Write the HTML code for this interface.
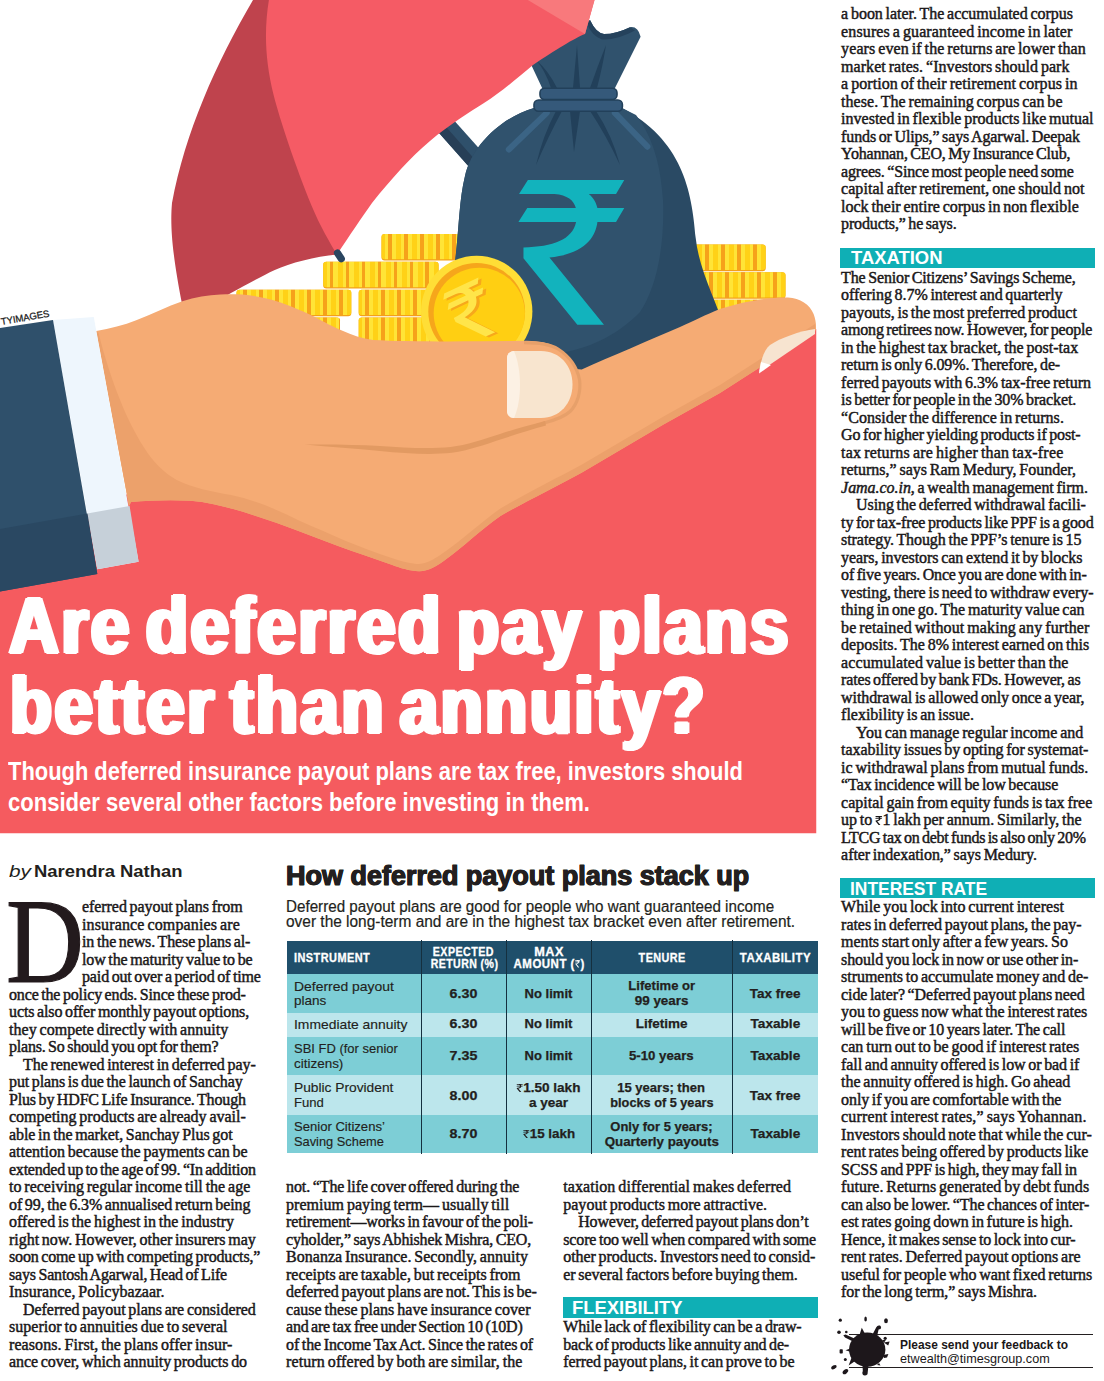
<!DOCTYPE html>
<html><head><meta charset="utf-8"><title>Are deferred pay plans better than annuity?</title>
<style>
html,body{margin:0;padding:0;background:#fff}
#page{position:relative;width:1104px;height:1381px;overflow:hidden;background:#fff;font-family:"Liberation Serif",serif}
#page div{white-space:pre}
</style></head>
<body><div id="page">
<svg id="hero" width="830" height="840" viewBox="0 0 830 840" style="position:absolute;left:0;top:0">
<defs>
<linearGradient id="cs" gradientUnits="userSpaceOnUse" x1="6.3" y1="0" x2="22.3" y2="0" spreadMethod="repeat">
<stop offset="0" stop-color="#F6A21A"/><stop offset="0.2375" stop-color="#F6A21A"/>
<stop offset="0.2375" stop-color="#FFE437"/><stop offset="0.5125" stop-color="#FFE437"/>
<stop offset="0.5125" stop-color="#FFD117"/><stop offset="0.8375" stop-color="#FFD117"/>
<stop offset="0.8375" stop-color="#FFE437"/><stop offset="1" stop-color="#FFE437"/>
</linearGradient>
<clipPath id="heroclip"><rect x="0" y="0" width="816.5" height="833.5"/></clipPath>
</defs>
<g clip-path="url(#heroclip)">
<!-- red background -->
<path d="M0,560 L135,490 L300,480 L600,380 L816.5,329 L816.5,833.5 L0,833.5 Z" fill="#F55B5F"/>
<!-- umbrella shaft -->
<path d="M447,112.5 L489,159.5 L474.5,173 L432,125 Z" fill="#2F506B"/>
<path d="M440,120 L481,166.5 L474.5,173 L432,125 Z" fill="#273F57"/>
<!-- coins left -->
<g>
<g transform="translate(236.5,317.4)"><rect x="0" y="0" width="103.5" height="26.6" rx="3.2" fill="#F3A11A"/><rect x="0" y="0" width="103.5" height="25.400000000000002" rx="3.2" fill="url(#cs)"/></g>
<g transform="translate(358.7,317.4)"><rect x="0" y="0" width="115" height="26.6" rx="3.2" fill="#F3A11A"/><rect x="0" y="0" width="115" height="25.400000000000002" rx="3.2" fill="url(#cs)"/></g>
<g transform="translate(236.5,289.7)"><rect x="0" y="0" width="114.8" height="26.6" rx="3.2" fill="#F3A11A"/><rect x="0" y="0" width="114.8" height="25.400000000000002" rx="3.2" fill="url(#cs)"/></g>
<g transform="translate(358.7,289.7)"><rect x="0" y="0" width="115" height="26.6" rx="3.2" fill="#F3A11A"/><rect x="0" y="0" width="115" height="25.400000000000002" rx="3.2" fill="url(#cs)"/></g>
<g transform="translate(323.2,261.8)"><rect x="0" y="0" width="115.4" height="26.6" rx="3.2" fill="#F3A11A"/><rect x="0" y="0" width="115.4" height="25.400000000000002" rx="3.2" fill="url(#cs)"/></g>
<g transform="translate(381.5,233.9)"><rect x="0" y="0" width="100" height="26.6" rx="3.2" fill="#F3A11A"/><rect x="0" y="0" width="100" height="25.400000000000002" rx="3.2" fill="url(#cs)"/></g>
</g>
<!-- coins right -->
<g>
<g transform="translate(682.4,299.8)"><rect x="0" y="0" width="115" height="26.6" rx="3.2" fill="#F3A11A"/><rect x="0" y="0" width="115" height="25.4" rx="3.2" fill="url(#cs)"/></g>
<g transform="translate(670.5,272.2)"><rect x="0" y="0" width="115" height="26.6" rx="3.2" fill="#F3A11A"/><rect x="0" y="0" width="115" height="25.4" rx="3.2" fill="url(#cs)"/></g>
<g transform="translate(650.7,244.6)"><rect x="0" y="0" width="115" height="26.6" rx="3.2" fill="#F3A11A"/><rect x="0" y="0" width="115" height="25.4" rx="3.2" fill="url(#cs)"/></g>
</g>
<!-- bag -->
<g>
<path d="M544,92 L528,58 L590,20 Q596,33 604,34 Q616,34 630,27.2 Q638,26 640.6,36.7 L613,92 Z" fill="#30526D"/>
<path d="M534,108 C500,118 472,146 465,176 C459,200 459,230 455,262 C450,320 470,380 580,390 L725,330 C716,300 699,270 695.7,238 C692,190 682,140 622,108 Z" fill="#2A4A64"/>
<path d="M534,108 C500,118 472,146 465,176 C459,200 459,230 455,262 C450,320 470,380 560,390 L560,353 C585,349 615,338 640,312 C655,290 665,250 663,200 C661,170 655,140 636,115 L622,108 Z" fill="#30526D"/>
<path d="M590,20 Q596,33 604,34 Q616,34 630,27.2 L635,30.5 Q616,40.5 602,39.5 Q592,36 587,24 Z" fill="#25425C"/>
<!-- folds -->
<path d="M546.8,112.8 L508.8,149.5" stroke="#3B6485" stroke-width="6" stroke-linecap="round"/>
<path d="M614.8,112.8 L647.4,146.7" stroke="#3B6485" stroke-width="6" stroke-linecap="round"/>
<path d="M556,111 Q543,135 536,165 Q549,135 562,111 Z" fill="#22405A"/>
<path d="M570,111 L574,152 L580,111 Z" fill="#22405A"/>
<path d="M596,111 Q612,135 620,165 Q606,135 590,111 Z" fill="#22405A"/>
<path d="M551,88 Q545,70 536,60 Q548,70 557,88 Z" fill="#22405A"/>
<path d="M573,88 L577,45 L580,88 Z" fill="#22405A"/>
<path d="M590,88 Q598,65 606,45 Q603,65 597,88 Z" fill="#22405A"/>
<!-- ties -->
<rect x="540" y="88.3" width="77" height="11.2" rx="4.5" fill="#35597A" stroke="#22405A" stroke-width="1.6"/>
<rect x="534" y="100" width="88.4" height="11.2" rx="4.5" fill="#35597A" stroke="#22405A" stroke-width="1.6"/>
<!-- rupee -->
<path transform="translate(500,165) scale(0.12681)" d="M220,118 L980,118 L915,228 L700,228 C740,260 760,300 768,340 L980,340 L915,450 L768,450 C755,560 680,700 390,730 L820,1260 L610,1260 L185,735 L185,650 C420,645 570,590 600,450 L145,450 L215,340 L598,340 C585,280 530,235 430,228 L150,228 Z" fill="#12B3BD"/>
</g>
<!-- umbrella -->
<path d="M253,0 C216,63 185,133 172,203 C170,225 172,253.6 182.5,306 L200,312 C210,306 220,299 231,293 C247,284.5 262,276 274.8,270 C290,263 315,256.5 337,254.5 L300,0 Z" fill="#BF434D"/>
<path d="M268.9,0 C264,30 265,60 273.6,95 C280,120 295,165 311.7,206 C320,226 330,243 337,254.5 C350,235 362,217 372,203 C392,178 410,158 430,141 C450,124 470,112 484,103 C500,93 515,80 533,65 C555,50 575,38 585,34 L594.4,0 Z" fill="#F55B65"/>
<path d="M527.8,0 L594.6,0 L585,34 Z" fill="#F8797C"/>
<!-- umbrella tip pin -->
<path d="M337.5,253 L341.3,258.8" stroke="#2A4560" stroke-width="7.2" stroke-linecap="round"/>
<!-- big coin -->
<g>
<circle cx="476.7" cy="311.5" r="55.7" fill="#FFDE36"/>
<circle cx="476.7" cy="311.5" r="48.4" fill="#F6A61B"/>
<circle cx="479.3" cy="313.3" r="45.6" fill="#FFCF12"/>
<g transform="translate(471.5,312) rotate(-25) scale(0.0497) translate(-560,-690)">
<path transform="translate(50,45)" d="M220,118 L980,118 L915,228 L700,228 C740,260 760,300 768,340 L980,340 L915,450 L768,450 C755,560 680,700 390,730 L820,1260 L610,1260 L185,735 L185,650 C420,645 570,590 600,450 L145,450 L215,340 L598,340 C585,280 530,235 430,228 L150,228 Z" fill="#F7A81B"/>
<path d="M220,118 L980,118 L915,228 L700,228 C740,260 760,300 768,340 L980,340 L915,450 L768,450 C755,560 680,700 390,730 L820,1260 L610,1260 L185,735 L185,650 C420,645 570,590 600,450 L145,450 L215,340 L598,340 C585,280 530,235 430,228 L150,228 Z" fill="#FFE54A"/>
</g>
</g>
<!-- hand -->
<g>
<path id="handp" d="M96.3,331 C110,329 124,325 136.2,320.3 C152,314 167,306.5 182.4,301.25 C195,297 208,295 220.4,294.5 C228,294.2 235,294.2 242.2,294.5 C251,295.2 259,296.5 266.6,298.5 C285,303 300,310 314,316.6 C325,322.5 333,327 342.5,330.7 C352,335 362,338.5 373,340 C400,341.5 440,341.5 480,341.3 L526.7,340.8 C540,341 548,342.5 556.6,347.6 C566,353 572,360 576,369 L581.7,369.4 C610,357 650,340 680,327 C695,320.5 705,315 719.8,309 C745,301 770,297 788,297.6 C800,298 810,305 813.6,314 C815.5,319 816.3,324 816,329 L815,332 L720,393 L663.5,424.5 L582,472.4 C555,487 525,502 500.4,515.9 C480,530 462,548 446,559.3 C437,566 428,571.5 418.9,571.3 C410,571 400,568 391.7,564.8 C372,558 355,552 337.4,545.8 C310,535.5 283,524.5 255.9,515.9 C235,509 212,502.5 190.7,500.7 C170,499.5 150,500.3 131,502 L129,506 Z" fill="#F5AB74"/>
<!-- shadow along lower edge and wrist -->
<path d="M98.5,333 C104,355 112,380 119.6,398.7 C127,418 135,433 144,447.6 C153,462 164,473 176.6,480 C193,488 211,491.5 231,495 C255,500 278,510 300,521 C330,534 360,548 391.7,558 C402,561.5 412,564 419,564 C428,563.5 436,558 446,551 C462,540 480,523 500.4,508.5 C525,494 555,479 582,464.4 L663.5,416.5 L720,385 L815,324 L815,332 L720,393 L663.5,424.5 L582,472.4 C555,487 525,502 500.4,515.9 C480,530 462,548 446,559.3 C437,566 428,571.5 418.9,571.3 C410,571 400,568 391.7,564.8 C372,558 355,552 337.4,545.8 C310,535.5 283,524.5 255.9,515.9 C235,509 212,502.5 190.7,500.7 C170,499.5 150,500.3 131,502 L129,506 L96.3,331 Z" fill="#ECA16B"/>
<!-- thumb outline + crease -->
<path d="M524,342.6 C540,342.6 550,344 558,349 C569,356 577,367 579.6,380 C581,392 577.5,404 570,411.5 C563,418 553,420.8 543,423.2" fill="none" stroke="#E7A06A" stroke-width="3.2"/>
<path d="M545,421.1 C528,425.5 514,429.5 500,434 C483,439.5 467,445 450.6,447 C430,449 405,447.8 380,446 C355,444.6 330,444.2 304.8,444.6 C330,447 355,448.6 380,451 C405,453.4 430,455.2 452,452.8 C469,450.4 485,444.6 502,439 C516,434.4 530,430 546,425.6 Z" fill="#E29A62"/>
<!-- thumb nail -->
<path d="M514,351 L541,351 C560,351 572.5,366 572.5,384.5 C572.5,403 560,418 541,418 L514,418 C510,418 507,415 507,411 L507,358 C507,354 510,351 514,351 Z" fill="#F8E5CF"/>
<path d="M514,351 C510,351 507,354 507,358 L507,411 C507,415 510,418 514,418 C522,400 522,370 514,351 Z" fill="#FCF1E4"/>
<!-- finger nail -->
<path d="M815,329 C800,331 780,338 770,345 C764,350 761,360 759,372 L815,334 Z" fill="#F7E4D0"/>
<path d="M761,362 L759,373.5 L771,365 Z" fill="#FFFFFF"/>
</g>
<!-- cuff -->
<path d="M53,320 L93.75,317 L138.6,561.7 L97.3,569.3 Z" fill="#EEF6FD"/>
<path d="M87.3,513.4 L129.6,506 L138.6,561.7 L97.3,569.3 Z" fill="#C6D0D9"/>
<!-- sleeve -->
<path d="M0,328 L53,320 L97.3,574 L0,591.6 Z" fill="#2F506B"/>
<path d="M0,529 L87.5,513.4 L97.3,574 L0,591.6 Z" fill="#2A4862"/>
</g>
<text x="0" y="0" transform="translate(1.6,325.1) rotate(-9.95)" font-family="Liberation Sans, sans-serif" font-size="9.6" fill="#1a1a1a" stroke="#1a1a1a" stroke-width="0.25" letter-spacing="-0.1">TYIMAGES</text>
</svg>

<!-- section bars -->
<div style="position:absolute;left:840px;top:247.5px;width:255px;height:20px;background:#0FAFB5"></div>
<div style="position:absolute;left:840px;top:878px;width:255px;height:20px;background:#0FAFB5"></div>
<div style="position:absolute;left:563.25px;top:1297px;width:254.5px;height:20.5px;background:#0FAFB5"></div>
<!-- table -->
<div style="position:absolute;left:287.2px;top:940.9px;width:530.4px;height:212.3px;background:linear-gradient(to bottom,#1F4F6B 0.0px,#1F4F6B 32.7px,#7DCED6 32.7px,#7DCED6 71.8px,#BCE6EC 71.8px,#BCE6EC 95.9px,#7DCED6 95.9px,#7DCED6 133.9px,#BCE6EC 133.9px,#BCE6EC 173.8px,#7DCED6 173.8px,#7DCED6 212.3px)"></div>
<div style="position:absolute;left:421px;top:940.2px;width:1.2px;height:213.8px;background:#15303f"></div>
<div style="position:absolute;left:506px;top:940.2px;width:1.2px;height:213.8px;background:#15303f"></div>
<div style="position:absolute;left:591px;top:940.2px;width:1.2px;height:213.8px;background:#15303f"></div>
<div style="position:absolute;left:732px;top:940.2px;width:1.2px;height:213.8px;background:#15303f"></div>
<!-- feedback -->
<div style="position:absolute;left:849px;top:1333.8px;width:244px;height:1px;background:#231f20"></div>
<div style="position:absolute;left:849px;top:1367px;width:244px;height:1px;background:#231f20"></div>
<svg style="position:absolute;left:826px;top:1312px" width="70" height="68" viewBox="826 1312 70 68">
<g fill="#1d171b">
<ellipse cx="867.2" cy="1349.6" rx="18.2" ry="17.2"/>
<path d="M872.5,1334.5 L876.3,1327.2 Q877.5,1324.8 880,1325.6 Q882,1327 880.6,1329 L878.6,1329.6 L877.2,1335.5 Z"/>
<path d="M859.5,1335 L861.8,1327.8 L864.8,1333.5 Z"/>
<path d="M853,1341.5 L845,1337.6 L843.3,1335.2 L845.5,1334.6 L855,1338.8 Z"/>
<path d="M851,1348.2 L845.5,1350.2 L851,1352 Z"/>
<path d="M852,1356.5 L848.6,1365.6 L856,1360.5 Z"/>
<path d="M862.5,1364.5 L862.8,1371 Q861.5,1373.5 863,1375 Q865.5,1376.2 867.5,1374.2 L868.5,1365 Z"/>
<path d="M882,1340 L886,1339.8 L884,1342.8 Z"/>
<circle cx="885.2" cy="1338.3" r="1.6"/>
<path d="M883.8,1342.6 L889.6,1341.6 L888.2,1345.6 Z"/>
<path d="M883,1355 L888.4,1354 L887,1357.4 L884,1358 Z"/>
<path d="M879,1363 L880.5,1365.5 L877,1365 Z"/>
<circle cx="840.3" cy="1320.2" r="1.6"/>
<ellipse cx="865.6" cy="1319" rx="1.3" ry="2.6"/>
<ellipse cx="886" cy="1320.8" rx="1.9" ry="2.5"/>
<circle cx="839" cy="1332.3" r="1.8"/><circle cx="846.3" cy="1332" r="1.3"/>
<rect x="839.6" y="1349.2" width="3.2" height="4.4" rx="0.8"/>
<circle cx="845.3" cy="1359.6" r="1.5"/>
<ellipse cx="833.9" cy="1367.2" rx="3" ry="1.8" transform="rotate(-28 833.9 1367.2)"/>
<ellipse cx="845.4" cy="1371.6" rx="3.2" ry="2" transform="rotate(-40 845.4 1371.6)"/>
</g></svg>

<div style='position:absolute;top:899.10px;line-height:1;color:#1a1718;font-family:"Liberation Serif", serif;font-size:16px;font-weight:normal;font-style:normal;white-space:pre;word-spacing:-1.2px;-webkit-text-stroke:0.45px #1a1718;letter-spacing:-0.063px;left:82.00px;'>eferred payout plans from</div>
<div style='position:absolute;top:916.60px;line-height:1;color:#1a1718;font-family:"Liberation Serif", serif;font-size:16px;font-weight:normal;font-style:normal;white-space:pre;word-spacing:-1.2px;-webkit-text-stroke:0.45px #1a1718;letter-spacing:0.139px;left:82.00px;'>insurance companies are</div>
<div style='position:absolute;top:934.10px;line-height:1;color:#1a1718;font-family:"Liberation Serif", serif;font-size:16px;font-weight:normal;font-style:normal;white-space:pre;word-spacing:-1.2px;-webkit-text-stroke:0.45px #1a1718;letter-spacing:-0.113px;left:82.00px;'>in the news. These plans al-</div>
<div style='position:absolute;top:951.60px;line-height:1;color:#1a1718;font-family:"Liberation Serif", serif;font-size:16px;font-weight:normal;font-style:normal;white-space:pre;word-spacing:-1.2px;-webkit-text-stroke:0.45px #1a1718;letter-spacing:-0.122px;left:82.00px;'>low the maturity value to be</div>
<div style='position:absolute;top:969.10px;line-height:1;color:#1a1718;font-family:"Liberation Serif", serif;font-size:16px;font-weight:normal;font-style:normal;white-space:pre;word-spacing:-1.2px;-webkit-text-stroke:0.45px #1a1718;letter-spacing:-0.139px;left:82.00px;'>paid out over a period of time</div>
<div style='position:absolute;top:986.60px;line-height:1;color:#1a1718;font-family:"Liberation Serif", serif;font-size:16px;font-weight:normal;font-style:normal;white-space:pre;word-spacing:-1.2px;-webkit-text-stroke:0.45px #1a1718;letter-spacing:-0.158px;left:9.00px;'>once the policy ends. Since these prod-</div>
<div style='position:absolute;top:1004.10px;line-height:1;color:#1a1718;font-family:"Liberation Serif", serif;font-size:16px;font-weight:normal;font-style:normal;white-space:pre;word-spacing:-1.2px;-webkit-text-stroke:0.45px #1a1718;letter-spacing:-0.110px;left:9.00px;'>ucts also offer monthly payout options,</div>
<div style='position:absolute;top:1021.60px;line-height:1;color:#1a1718;font-family:"Liberation Serif", serif;font-size:16px;font-weight:normal;font-style:normal;white-space:pre;word-spacing:-1.2px;-webkit-text-stroke:0.45px #1a1718;letter-spacing:0.031px;left:9.00px;'>they compete directly with annuity</div>
<div style='position:absolute;top:1039.10px;line-height:1;color:#1a1718;font-family:"Liberation Serif", serif;font-size:16px;font-weight:normal;font-style:normal;white-space:pre;word-spacing:-1.2px;-webkit-text-stroke:0.45px #1a1718;letter-spacing:-0.207px;left:9.00px;'>plans. So should you opt for them?</div>
<div style='position:absolute;top:1056.60px;line-height:1;color:#1a1718;font-family:"Liberation Serif", serif;font-size:16px;font-weight:normal;font-style:normal;white-space:pre;word-spacing:-1.2px;-webkit-text-stroke:0.45px #1a1718;letter-spacing:-0.041px;left:23.00px;'>The renewed interest in deferred pay-</div>
<div style='position:absolute;top:1074.10px;line-height:1;color:#1a1718;font-family:"Liberation Serif", serif;font-size:16px;font-weight:normal;font-style:normal;white-space:pre;word-spacing:-1.2px;-webkit-text-stroke:0.45px #1a1718;letter-spacing:-0.099px;left:9.00px;'>put plans is due the launch of Sanchay</div>
<div style='position:absolute;top:1091.60px;line-height:1;color:#1a1718;font-family:"Liberation Serif", serif;font-size:16px;font-weight:normal;font-style:normal;white-space:pre;word-spacing:-1.2px;-webkit-text-stroke:0.45px #1a1718;letter-spacing:-0.165px;left:9.00px;'>Plus by HDFC Life Insurance. Though</div>
<div style='position:absolute;top:1109.10px;line-height:1;color:#1a1718;font-family:"Liberation Serif", serif;font-size:16px;font-weight:normal;font-style:normal;white-space:pre;word-spacing:-1.2px;-webkit-text-stroke:0.45px #1a1718;letter-spacing:-0.002px;left:9.00px;'>competing products are already avail-</div>
<div style='position:absolute;top:1126.60px;line-height:1;color:#1a1718;font-family:"Liberation Serif", serif;font-size:16px;font-weight:normal;font-style:normal;white-space:pre;word-spacing:-1.2px;-webkit-text-stroke:0.45px #1a1718;letter-spacing:-0.071px;left:9.00px;'>able in the market, Sanchay Plus got</div>
<div style='position:absolute;top:1144.10px;line-height:1;color:#1a1718;font-family:"Liberation Serif", serif;font-size:16px;font-weight:normal;font-style:normal;white-space:pre;word-spacing:-1.2px;-webkit-text-stroke:0.45px #1a1718;letter-spacing:-0.007px;left:9.00px;'>attention because the payments can be</div>
<div style='position:absolute;top:1161.60px;line-height:1;color:#1a1718;font-family:"Liberation Serif", serif;font-size:16px;font-weight:normal;font-style:normal;white-space:pre;word-spacing:-1.2px;-webkit-text-stroke:0.45px #1a1718;letter-spacing:-0.232px;left:9.00px;'>extended up to the age of 99. “In addition</div>
<div style='position:absolute;top:1179.10px;line-height:1;color:#1a1718;font-family:"Liberation Serif", serif;font-size:16px;font-weight:normal;font-style:normal;white-space:pre;word-spacing:-1.2px;-webkit-text-stroke:0.45px #1a1718;letter-spacing:0.015px;left:9.00px;'>to receiving regular income till the age</div>
<div style='position:absolute;top:1196.60px;line-height:1;color:#1a1718;font-family:"Liberation Serif", serif;font-size:16px;font-weight:normal;font-style:normal;white-space:pre;word-spacing:-1.2px;-webkit-text-stroke:0.45px #1a1718;letter-spacing:-0.100px;left:9.00px;'>of 99, the 6.3% annualised return being</div>
<div style='position:absolute;top:1214.10px;line-height:1;color:#1a1718;font-family:"Liberation Serif", serif;font-size:16px;font-weight:normal;font-style:normal;white-space:pre;word-spacing:-1.2px;-webkit-text-stroke:0.45px #1a1718;letter-spacing:0.039px;left:9.00px;'>offered is the highest in the industry</div>
<div style='position:absolute;top:1231.60px;line-height:1;color:#1a1718;font-family:"Liberation Serif", serif;font-size:16px;font-weight:normal;font-style:normal;white-space:pre;word-spacing:-1.2px;-webkit-text-stroke:0.45px #1a1718;letter-spacing:-0.027px;left:9.00px;'>right now. However, other insurers may</div>
<div style='position:absolute;top:1249.10px;line-height:1;color:#1a1718;font-family:"Liberation Serif", serif;font-size:16px;font-weight:normal;font-style:normal;white-space:pre;word-spacing:-1.2px;-webkit-text-stroke:0.45px #1a1718;letter-spacing:-0.152px;left:9.00px;'>soon come up with competing products,”</div>
<div style='position:absolute;top:1266.60px;line-height:1;color:#1a1718;font-family:"Liberation Serif", serif;font-size:16px;font-weight:normal;font-style:normal;white-space:pre;word-spacing:-1.2px;-webkit-text-stroke:0.45px #1a1718;letter-spacing:-0.180px;left:9.00px;'>says Santosh Agarwal, Head of Life</div>
<div style='position:absolute;top:1284.10px;line-height:1;color:#1a1718;font-family:"Liberation Serif", serif;font-size:16px;font-weight:normal;font-style:normal;white-space:pre;word-spacing:-1.2px;-webkit-text-stroke:0.45px #1a1718;letter-spacing:0.034px;left:9.00px;'>Insurance, Policybazaar.</div>
<div style='position:absolute;top:1301.60px;line-height:1;color:#1a1718;font-family:"Liberation Serif", serif;font-size:16px;font-weight:normal;font-style:normal;white-space:pre;word-spacing:-1.2px;-webkit-text-stroke:0.45px #1a1718;letter-spacing:-0.039px;left:23.00px;'>Deferred payout plans are considered</div>
<div style='position:absolute;top:1319.10px;line-height:1;color:#1a1718;font-family:"Liberation Serif", serif;font-size:16px;font-weight:normal;font-style:normal;white-space:pre;word-spacing:-1.2px;-webkit-text-stroke:0.45px #1a1718;letter-spacing:0.029px;left:9.00px;'>superior to annuities due to several</div>
<div style='position:absolute;top:1336.60px;line-height:1;color:#1a1718;font-family:"Liberation Serif", serif;font-size:16px;font-weight:normal;font-style:normal;white-space:pre;word-spacing:-1.2px;-webkit-text-stroke:0.45px #1a1718;letter-spacing:0.081px;left:9.00px;'>reasons. First, the plans offer insur-</div>
<div style='position:absolute;top:1354.10px;line-height:1;color:#1a1718;font-family:"Liberation Serif", serif;font-size:16px;font-weight:normal;font-style:normal;white-space:pre;word-spacing:-1.2px;-webkit-text-stroke:0.45px #1a1718;letter-spacing:-0.064px;left:9.00px;'>ance cover, which annuity products do</div>
<div style='position:absolute;top:1179.10px;line-height:1;color:#1a1718;font-family:"Liberation Serif", serif;font-size:16px;font-weight:normal;font-style:normal;white-space:pre;word-spacing:-1.2px;-webkit-text-stroke:0.45px #1a1718;letter-spacing:-0.102px;left:286.00px;'>not. “The life cover offered during the</div>
<div style='position:absolute;top:1196.60px;line-height:1;color:#1a1718;font-family:"Liberation Serif", serif;font-size:16px;font-weight:normal;font-style:normal;white-space:pre;word-spacing:-1.2px;-webkit-text-stroke:0.45px #1a1718;letter-spacing:0.044px;left:286.00px;'>premium paying term— usually till</div>
<div style='position:absolute;top:1214.10px;line-height:1;color:#1a1718;font-family:"Liberation Serif", serif;font-size:16px;font-weight:normal;font-style:normal;white-space:pre;word-spacing:-1.2px;-webkit-text-stroke:0.45px #1a1718;letter-spacing:-0.131px;left:286.00px;'>retirement—works in favour of the poli-</div>
<div style='position:absolute;top:1231.60px;line-height:1;color:#1a1718;font-family:"Liberation Serif", serif;font-size:16px;font-weight:normal;font-style:normal;white-space:pre;word-spacing:-1.2px;-webkit-text-stroke:0.45px #1a1718;letter-spacing:-0.160px;left:286.00px;'>cyholder,” says Abhishek Mishra, CEO,</div>
<div style='position:absolute;top:1249.10px;line-height:1;color:#1a1718;font-family:"Liberation Serif", serif;font-size:16px;font-weight:normal;font-style:normal;white-space:pre;word-spacing:-1.2px;-webkit-text-stroke:0.45px #1a1718;letter-spacing:0.027px;left:286.00px;'>Bonanza Insurance. Secondly, annuity</div>
<div style='position:absolute;top:1266.60px;line-height:1;color:#1a1718;font-family:"Liberation Serif", serif;font-size:16px;font-weight:normal;font-style:normal;white-space:pre;word-spacing:-1.2px;-webkit-text-stroke:0.45px #1a1718;letter-spacing:-0.006px;left:286.00px;'>receipts are taxable, but receipts from</div>
<div style='position:absolute;top:1284.10px;line-height:1;color:#1a1718;font-family:"Liberation Serif", serif;font-size:16px;font-weight:normal;font-style:normal;white-space:pre;word-spacing:-1.2px;-webkit-text-stroke:0.45px #1a1718;letter-spacing:-0.063px;left:286.00px;'>deferred payout plans are not. This is be-</div>
<div style='position:absolute;top:1301.60px;line-height:1;color:#1a1718;font-family:"Liberation Serif", serif;font-size:16px;font-weight:normal;font-style:normal;white-space:pre;word-spacing:-1.2px;-webkit-text-stroke:0.45px #1a1718;letter-spacing:0.035px;left:286.00px;'>cause these plans have insurance cover</div>
<div style='position:absolute;top:1319.10px;line-height:1;color:#1a1718;font-family:"Liberation Serif", serif;font-size:16px;font-weight:normal;font-style:normal;white-space:pre;word-spacing:-1.2px;-webkit-text-stroke:0.45px #1a1718;letter-spacing:-0.224px;left:286.00px;'>and are tax free under Section 10 (10D)</div>
<div style='position:absolute;top:1336.60px;line-height:1;color:#1a1718;font-family:"Liberation Serif", serif;font-size:16px;font-weight:normal;font-style:normal;white-space:pre;word-spacing:-1.2px;-webkit-text-stroke:0.45px #1a1718;letter-spacing:-0.110px;left:286.00px;'>of the Income Tax Act. Since the rates of</div>
<div style='position:absolute;top:1354.10px;line-height:1;color:#1a1718;font-family:"Liberation Serif", serif;font-size:16px;font-weight:normal;font-style:normal;white-space:pre;word-spacing:-1.2px;-webkit-text-stroke:0.45px #1a1718;letter-spacing:0.111px;left:286.00px;'>return offered by both are similar, the</div>
<div style='position:absolute;top:1179.10px;line-height:1;color:#1a1718;font-family:"Liberation Serif", serif;font-size:16px;font-weight:normal;font-style:normal;white-space:pre;word-spacing:-1.2px;-webkit-text-stroke:0.45px #1a1718;letter-spacing:0.081px;left:563.25px;'>taxation differential makes deferred</div>
<div style='position:absolute;top:1196.60px;line-height:1;color:#1a1718;font-family:"Liberation Serif", serif;font-size:16px;font-weight:normal;font-style:normal;white-space:pre;word-spacing:-1.2px;-webkit-text-stroke:0.45px #1a1718;letter-spacing:0.011px;left:563.25px;'>payout products more attractive.</div>
<div style='position:absolute;top:1214.10px;line-height:1;color:#1a1718;font-family:"Liberation Serif", serif;font-size:16px;font-weight:normal;font-style:normal;white-space:pre;word-spacing:-1.2px;-webkit-text-stroke:0.45px #1a1718;letter-spacing:-0.194px;left:578.25px;'>However, deferred payout plans don’t</div>
<div style='position:absolute;top:1231.60px;line-height:1;color:#1a1718;font-family:"Liberation Serif", serif;font-size:16px;font-weight:normal;font-style:normal;white-space:pre;word-spacing:-1.2px;-webkit-text-stroke:0.45px #1a1718;letter-spacing:-0.150px;left:563.25px;'>score too well when compared with some</div>
<div style='position:absolute;top:1249.10px;line-height:1;color:#1a1718;font-family:"Liberation Serif", serif;font-size:16px;font-weight:normal;font-style:normal;white-space:pre;word-spacing:-1.2px;-webkit-text-stroke:0.45px #1a1718;letter-spacing:-0.057px;left:563.25px;'>other products. Investors need to consid-</div>
<div style='position:absolute;top:1266.60px;line-height:1;color:#1a1718;font-family:"Liberation Serif", serif;font-size:16px;font-weight:normal;font-style:normal;white-space:pre;word-spacing:-1.2px;-webkit-text-stroke:0.45px #1a1718;letter-spacing:-0.053px;left:563.25px;'>er several factors before buying them.</div>
<div style='position:absolute;top:1319.10px;line-height:1;color:#1a1718;font-family:"Liberation Serif", serif;font-size:16px;font-weight:normal;font-style:normal;white-space:pre;word-spacing:-1.2px;-webkit-text-stroke:0.45px #1a1718;letter-spacing:-0.130px;left:563.25px;'>While lack of flexibility can be a draw-</div>
<div style='position:absolute;top:1336.60px;line-height:1;color:#1a1718;font-family:"Liberation Serif", serif;font-size:16px;font-weight:normal;font-style:normal;white-space:pre;word-spacing:-1.2px;-webkit-text-stroke:0.45px #1a1718;letter-spacing:-0.139px;left:563.25px;'>back of products like annuity and de-</div>
<div style='position:absolute;top:1354.10px;line-height:1;color:#1a1718;font-family:"Liberation Serif", serif;font-size:16px;font-weight:normal;font-style:normal;white-space:pre;word-spacing:-1.2px;-webkit-text-stroke:0.45px #1a1718;letter-spacing:-0.074px;left:563.25px;'>ferred payout plans, it can prove to be</div>
<div style='position:absolute;top:6.10px;line-height:1;color:#1a1718;font-family:"Liberation Serif", serif;font-size:16px;font-weight:normal;font-style:normal;white-space:pre;word-spacing:-1.2px;-webkit-text-stroke:0.45px #1a1718;letter-spacing:-0.025px;left:841.10px;'>a boon later. The accumulated corpus</div>
<div style='position:absolute;top:23.60px;line-height:1;color:#1a1718;font-family:"Liberation Serif", serif;font-size:16px;font-weight:normal;font-style:normal;white-space:pre;word-spacing:-1.2px;-webkit-text-stroke:0.45px #1a1718;letter-spacing:0.114px;left:841.10px;'>ensures a guaranteed income in later</div>
<div style='position:absolute;top:41.10px;line-height:1;color:#1a1718;font-family:"Liberation Serif", serif;font-size:16px;font-weight:normal;font-style:normal;white-space:pre;word-spacing:-1.2px;-webkit-text-stroke:0.45px #1a1718;letter-spacing:0.098px;left:841.10px;'>years even if the returns are lower than</div>
<div style='position:absolute;top:58.60px;line-height:1;color:#1a1718;font-family:"Liberation Serif", serif;font-size:16px;font-weight:normal;font-style:normal;white-space:pre;word-spacing:-1.2px;-webkit-text-stroke:0.45px #1a1718;letter-spacing:0.049px;left:841.10px;'>market rates. “Investors should park</div>
<div style='position:absolute;top:76.10px;line-height:1;color:#1a1718;font-family:"Liberation Serif", serif;font-size:16px;font-weight:normal;font-style:normal;white-space:pre;word-spacing:-1.2px;-webkit-text-stroke:0.45px #1a1718;letter-spacing:0.072px;left:841.10px;'>a portion of their retirement corpus in</div>
<div style='position:absolute;top:93.60px;line-height:1;color:#1a1718;font-family:"Liberation Serif", serif;font-size:16px;font-weight:normal;font-style:normal;white-space:pre;word-spacing:-1.2px;-webkit-text-stroke:0.45px #1a1718;letter-spacing:0.034px;left:841.10px;'>these. The remaining corpus can be</div>
<div style='position:absolute;top:111.10px;line-height:1;color:#1a1718;font-family:"Liberation Serif", serif;font-size:16px;font-weight:normal;font-style:normal;white-space:pre;word-spacing:-1.2px;-webkit-text-stroke:0.45px #1a1718;letter-spacing:0.007px;left:841.10px;'>invested in flexible products like mutual</div>
<div style='position:absolute;top:128.60px;line-height:1;color:#1a1718;font-family:"Liberation Serif", serif;font-size:16px;font-weight:normal;font-style:normal;white-space:pre;word-spacing:-1.2px;-webkit-text-stroke:0.45px #1a1718;letter-spacing:-0.120px;left:841.10px;'>funds or Ulips,” says Agarwal. Deepak</div>
<div style='position:absolute;top:146.10px;line-height:1;color:#1a1718;font-family:"Liberation Serif", serif;font-size:16px;font-weight:normal;font-style:normal;white-space:pre;word-spacing:-1.2px;-webkit-text-stroke:0.45px #1a1718;letter-spacing:-0.171px;left:841.10px;'>Yohannan, CEO, My Insurance Club,</div>
<div style='position:absolute;top:163.60px;line-height:1;color:#1a1718;font-family:"Liberation Serif", serif;font-size:16px;font-weight:normal;font-style:normal;white-space:pre;word-spacing:-1.2px;-webkit-text-stroke:0.45px #1a1718;letter-spacing:-0.184px;left:841.10px;'>agrees. “Since most people need some</div>
<div style='position:absolute;top:181.10px;line-height:1;color:#1a1718;font-family:"Liberation Serif", serif;font-size:16px;font-weight:normal;font-style:normal;white-space:pre;word-spacing:-1.2px;-webkit-text-stroke:0.45px #1a1718;letter-spacing:0.038px;left:841.10px;'>capital after retirement, one should not</div>
<div style='position:absolute;top:198.60px;line-height:1;color:#1a1718;font-family:"Liberation Serif", serif;font-size:16px;font-weight:normal;font-style:normal;white-space:pre;word-spacing:-1.2px;-webkit-text-stroke:0.45px #1a1718;letter-spacing:-0.008px;left:841.10px;'>lock their entire corpus in non flexible</div>
<div style='position:absolute;top:216.10px;line-height:1;color:#1a1718;font-family:"Liberation Serif", serif;font-size:16px;font-weight:normal;font-style:normal;white-space:pre;word-spacing:-1.2px;-webkit-text-stroke:0.45px #1a1718;letter-spacing:-0.159px;left:841.10px;'>products,” he says.</div>
<div style='position:absolute;top:269.80px;line-height:1;color:#1a1718;font-family:"Liberation Serif", serif;font-size:16px;font-weight:normal;font-style:normal;white-space:pre;word-spacing:-1.2px;-webkit-text-stroke:0.45px #1a1718;letter-spacing:-0.147px;left:841.10px;'>The Senior Citizens’ Savings Scheme,</div>
<div style='position:absolute;top:287.30px;line-height:1;color:#1a1718;font-family:"Liberation Serif", serif;font-size:16px;font-weight:normal;font-style:normal;white-space:pre;word-spacing:-1.2px;-webkit-text-stroke:0.45px #1a1718;letter-spacing:-0.063px;left:841.10px;'>offering 8.7% interest and quarterly</div>
<div style='position:absolute;top:304.80px;line-height:1;color:#1a1718;font-family:"Liberation Serif", serif;font-size:16px;font-weight:normal;font-style:normal;white-space:pre;word-spacing:-1.2px;-webkit-text-stroke:0.45px #1a1718;letter-spacing:-0.023px;left:841.10px;'>payouts, is the most preferred product</div>
<div style='position:absolute;top:322.30px;line-height:1;color:#1a1718;font-family:"Liberation Serif", serif;font-size:16px;font-weight:normal;font-style:normal;white-space:pre;word-spacing:-1.2px;-webkit-text-stroke:0.45px #1a1718;letter-spacing:-0.187px;left:841.10px;'>among retirees now. However, for people</div>
<div style='position:absolute;top:339.80px;line-height:1;color:#1a1718;font-family:"Liberation Serif", serif;font-size:16px;font-weight:normal;font-style:normal;white-space:pre;word-spacing:-1.2px;-webkit-text-stroke:0.45px #1a1718;letter-spacing:0.008px;left:841.10px;'>in the highest tax bracket, the post-tax</div>
<div style='position:absolute;top:357.30px;line-height:1;color:#1a1718;font-family:"Liberation Serif", serif;font-size:16px;font-weight:normal;font-style:normal;white-space:pre;word-spacing:-1.2px;-webkit-text-stroke:0.45px #1a1718;letter-spacing:-0.136px;left:841.10px;'>return is only 6.09%. Therefore, de-</div>
<div style='position:absolute;top:374.80px;line-height:1;color:#1a1718;font-family:"Liberation Serif", serif;font-size:16px;font-weight:normal;font-style:normal;white-space:pre;word-spacing:-1.2px;-webkit-text-stroke:0.45px #1a1718;letter-spacing:-0.046px;left:841.10px;'>ferred payouts with 6.3% tax-free return</div>
<div style='position:absolute;top:392.30px;line-height:1;color:#1a1718;font-family:"Liberation Serif", serif;font-size:16px;font-weight:normal;font-style:normal;white-space:pre;word-spacing:-1.2px;-webkit-text-stroke:0.45px #1a1718;letter-spacing:-0.136px;left:841.10px;'>is better for people in the 30% bracket.</div>
<div style='position:absolute;top:409.80px;line-height:1;color:#1a1718;font-family:"Liberation Serif", serif;font-size:16px;font-weight:normal;font-style:normal;white-space:pre;word-spacing:-1.2px;-webkit-text-stroke:0.45px #1a1718;letter-spacing:0.050px;left:841.10px;'>“Consider the difference in returns.</div>
<div style='position:absolute;top:427.30px;line-height:1;color:#1a1718;font-family:"Liberation Serif", serif;font-size:16px;font-weight:normal;font-style:normal;white-space:pre;word-spacing:-1.2px;-webkit-text-stroke:0.45px #1a1718;letter-spacing:-0.144px;left:841.10px;'>Go for higher yielding products if post-</div>
<div style='position:absolute;top:444.80px;line-height:1;color:#1a1718;font-family:"Liberation Serif", serif;font-size:16px;font-weight:normal;font-style:normal;white-space:pre;word-spacing:-1.2px;-webkit-text-stroke:0.45px #1a1718;letter-spacing:0.186px;left:841.10px;'>tax returns are higher than tax-free</div>
<div style='position:absolute;top:462.30px;line-height:1;color:#1a1718;font-family:"Liberation Serif", serif;font-size:16px;font-weight:normal;font-style:normal;white-space:pre;word-spacing:-1.2px;-webkit-text-stroke:0.45px #1a1718;letter-spacing:0.004px;left:841.10px;'>returns,” says Ram Medury, Founder,</div>
<div style='position:absolute;top:479.80px;line-height:1;color:#1a1718;font-family:"Liberation Serif", serif;font-size:16px;font-weight:normal;font-style:normal;white-space:pre;word-spacing:-1.2px;-webkit-text-stroke:0.45px #1a1718;letter-spacing:-0.046px;left:841.10px;'><i>Jama.co.in</i>, a wealth management firm.</div>
<div style='position:absolute;top:497.30px;line-height:1;color:#1a1718;font-family:"Liberation Serif", serif;font-size:16px;font-weight:normal;font-style:normal;white-space:pre;word-spacing:-1.2px;-webkit-text-stroke:0.45px #1a1718;letter-spacing:-0.070px;left:856.00px;'>Using the deferred withdrawal facili-</div>
<div style='position:absolute;top:514.80px;line-height:1;color:#1a1718;font-family:"Liberation Serif", serif;font-size:16px;font-weight:normal;font-style:normal;white-space:pre;word-spacing:-1.2px;-webkit-text-stroke:0.45px #1a1718;letter-spacing:-0.148px;left:841.10px;'>ty for tax-free products like PPF is a good</div>
<div style='position:absolute;top:532.30px;line-height:1;color:#1a1718;font-family:"Liberation Serif", serif;font-size:16px;font-weight:normal;font-style:normal;white-space:pre;word-spacing:-1.2px;-webkit-text-stroke:0.45px #1a1718;letter-spacing:-0.080px;left:841.10px;'>strategy. Though the PPF’s tenure is 15</div>
<div style='position:absolute;top:549.80px;line-height:1;color:#1a1718;font-family:"Liberation Serif", serif;font-size:16px;font-weight:normal;font-style:normal;white-space:pre;word-spacing:-1.2px;-webkit-text-stroke:0.45px #1a1718;letter-spacing:-0.063px;left:841.10px;'>years, investors can extend it by blocks</div>
<div style='position:absolute;top:567.30px;line-height:1;color:#1a1718;font-family:"Liberation Serif", serif;font-size:16px;font-weight:normal;font-style:normal;white-space:pre;word-spacing:-1.2px;-webkit-text-stroke:0.45px #1a1718;letter-spacing:-0.184px;left:841.10px;'>of five years. Once you are done with in-</div>
<div style='position:absolute;top:584.80px;line-height:1;color:#1a1718;font-family:"Liberation Serif", serif;font-size:16px;font-weight:normal;font-style:normal;white-space:pre;word-spacing:-1.2px;-webkit-text-stroke:0.45px #1a1718;letter-spacing:-0.028px;left:841.10px;'>vesting, there is need to withdraw every-</div>
<div style='position:absolute;top:602.30px;line-height:1;color:#1a1718;font-family:"Liberation Serif", serif;font-size:16px;font-weight:normal;font-style:normal;white-space:pre;word-spacing:-1.2px;-webkit-text-stroke:0.45px #1a1718;letter-spacing:-0.006px;left:841.10px;'>thing in one go. The maturity value can</div>
<div style='position:absolute;top:619.80px;line-height:1;color:#1a1718;font-family:"Liberation Serif", serif;font-size:16px;font-weight:normal;font-style:normal;white-space:pre;word-spacing:-1.2px;-webkit-text-stroke:0.45px #1a1718;letter-spacing:0.113px;left:841.10px;'>be retained without making any further</div>
<div style='position:absolute;top:637.30px;line-height:1;color:#1a1718;font-family:"Liberation Serif", serif;font-size:16px;font-weight:normal;font-style:normal;white-space:pre;word-spacing:-1.2px;-webkit-text-stroke:0.45px #1a1718;letter-spacing:0.001px;left:841.10px;'>deposits. The 8% interest earned on this</div>
<div style='position:absolute;top:654.80px;line-height:1;color:#1a1718;font-family:"Liberation Serif", serif;font-size:16px;font-weight:normal;font-style:normal;white-space:pre;word-spacing:-1.2px;-webkit-text-stroke:0.45px #1a1718;letter-spacing:0.105px;left:841.10px;'>accumulated value is better than the</div>
<div style='position:absolute;top:672.30px;line-height:1;color:#1a1718;font-family:"Liberation Serif", serif;font-size:16px;font-weight:normal;font-style:normal;white-space:pre;word-spacing:-1.2px;-webkit-text-stroke:0.45px #1a1718;letter-spacing:-0.173px;left:841.10px;'>rates offered by bank FDs. However, as</div>
<div style='position:absolute;top:689.80px;line-height:1;color:#1a1718;font-family:"Liberation Serif", serif;font-size:16px;font-weight:normal;font-style:normal;white-space:pre;word-spacing:-1.2px;-webkit-text-stroke:0.45px #1a1718;letter-spacing:-0.085px;left:841.10px;'>withdrawal is allowed only once a year,</div>
<div style='position:absolute;top:707.30px;line-height:1;color:#1a1718;font-family:"Liberation Serif", serif;font-size:16px;font-weight:normal;font-style:normal;white-space:pre;word-spacing:-1.2px;-webkit-text-stroke:0.45px #1a1718;letter-spacing:-0.018px;left:841.10px;'>flexibility is an issue.</div>
<div style='position:absolute;top:724.80px;line-height:1;color:#1a1718;font-family:"Liberation Serif", serif;font-size:16px;font-weight:normal;font-style:normal;white-space:pre;word-spacing:-1.2px;-webkit-text-stroke:0.45px #1a1718;letter-spacing:-0.005px;left:856.00px;'>You can manage regular income and</div>
<div style='position:absolute;top:742.30px;line-height:1;color:#1a1718;font-family:"Liberation Serif", serif;font-size:16px;font-weight:normal;font-style:normal;white-space:pre;word-spacing:-1.2px;-webkit-text-stroke:0.45px #1a1718;letter-spacing:-0.056px;left:841.10px;'>taxability issues by opting for systemat-</div>
<div style='position:absolute;top:759.80px;line-height:1;color:#1a1718;font-family:"Liberation Serif", serif;font-size:16px;font-weight:normal;font-style:normal;white-space:pre;word-spacing:-1.2px;-webkit-text-stroke:0.45px #1a1718;letter-spacing:0.022px;left:841.10px;'>ic withdrawal plans from mutual funds.</div>
<div style='position:absolute;top:777.30px;line-height:1;color:#1a1718;font-family:"Liberation Serif", serif;font-size:16px;font-weight:normal;font-style:normal;white-space:pre;word-spacing:-1.2px;-webkit-text-stroke:0.45px #1a1718;letter-spacing:-0.107px;left:841.10px;'>“Tax incidence will be low because</div>
<div style='position:absolute;top:794.80px;line-height:1;color:#1a1718;font-family:"Liberation Serif", serif;font-size:16px;font-weight:normal;font-style:normal;white-space:pre;word-spacing:-1.2px;-webkit-text-stroke:0.45px #1a1718;letter-spacing:-0.009px;left:841.10px;'>capital gain from equity funds is tax free</div>
<div style='position:absolute;top:812.30px;line-height:1;color:#1a1718;font-family:"Liberation Serif", serif;font-size:16px;font-weight:normal;font-style:normal;white-space:pre;word-spacing:-1.2px;-webkit-text-stroke:0.45px #1a1718;letter-spacing:-0.018px;left:841.10px;'>up to <svg width="7.49" height="9.60" viewBox="140 118 845 1142" style="display:inline-block;vertical-align:baseline;position:relative;top:0px"><path d="M220,118 L980,118 L915,228 L700,228 C740,260 760,300 768,340 L980,340 L915,450 L768,450 C755,560 680,700 390,730 L820,1260 L610,1260 L185,735 L185,650 C420,645 570,590 600,450 L145,450 L215,340 L598,340 C585,280 530,235 430,228 L150,228 Z" fill="#1a1718"/></svg>1 lakh per annum. Similarly, the</div>
<div style='position:absolute;top:829.80px;line-height:1;color:#1a1718;font-family:"Liberation Serif", serif;font-size:16px;font-weight:normal;font-style:normal;white-space:pre;word-spacing:-1.2px;-webkit-text-stroke:0.45px #1a1718;letter-spacing:-0.278px;left:841.10px;'>LTCG tax on debt funds is also only 20%</div>
<div style='position:absolute;top:847.30px;line-height:1;color:#1a1718;font-family:"Liberation Serif", serif;font-size:16px;font-weight:normal;font-style:normal;white-space:pre;word-spacing:-1.2px;-webkit-text-stroke:0.45px #1a1718;letter-spacing:-0.054px;left:841.10px;'>after indexation,” says Medury.</div>
<div style='position:absolute;top:899.30px;line-height:1;color:#1a1718;font-family:"Liberation Serif", serif;font-size:16px;font-weight:normal;font-style:normal;white-space:pre;word-spacing:-1.2px;-webkit-text-stroke:0.45px #1a1718;letter-spacing:0.025px;left:841.10px;'>While you lock into current interest</div>
<div style='position:absolute;top:916.80px;line-height:1;color:#1a1718;font-family:"Liberation Serif", serif;font-size:16px;font-weight:normal;font-style:normal;white-space:pre;word-spacing:-1.2px;-webkit-text-stroke:0.45px #1a1718;letter-spacing:-0.040px;left:841.10px;'>rates in deferred payout plans, the pay-</div>
<div style='position:absolute;top:934.30px;line-height:1;color:#1a1718;font-family:"Liberation Serif", serif;font-size:16px;font-weight:normal;font-style:normal;white-space:pre;word-spacing:-1.2px;-webkit-text-stroke:0.45px #1a1718;letter-spacing:-0.056px;left:841.10px;'>ments start only after a few years. So</div>
<div style='position:absolute;top:951.80px;line-height:1;color:#1a1718;font-family:"Liberation Serif", serif;font-size:16px;font-weight:normal;font-style:normal;white-space:pre;word-spacing:-1.2px;-webkit-text-stroke:0.45px #1a1718;letter-spacing:-0.125px;left:841.10px;'>should you lock in now or use other in-</div>
<div style='position:absolute;top:969.30px;line-height:1;color:#1a1718;font-family:"Liberation Serif", serif;font-size:16px;font-weight:normal;font-style:normal;white-space:pre;word-spacing:-1.2px;-webkit-text-stroke:0.45px #1a1718;letter-spacing:-0.036px;left:841.10px;'>struments to accumulate money and de-</div>
<div style='position:absolute;top:986.80px;line-height:1;color:#1a1718;font-family:"Liberation Serif", serif;font-size:16px;font-weight:normal;font-style:normal;white-space:pre;word-spacing:-1.2px;-webkit-text-stroke:0.45px #1a1718;letter-spacing:-0.108px;left:841.10px;'>cide later? “Deferred payout plans need</div>
<div style='position:absolute;top:1004.30px;line-height:1;color:#1a1718;font-family:"Liberation Serif", serif;font-size:16px;font-weight:normal;font-style:normal;white-space:pre;word-spacing:-1.2px;-webkit-text-stroke:0.45px #1a1718;letter-spacing:-0.026px;left:841.10px;'>you to guess now what the interest rates</div>
<div style='position:absolute;top:1021.80px;line-height:1;color:#1a1718;font-family:"Liberation Serif", serif;font-size:16px;font-weight:normal;font-style:normal;white-space:pre;word-spacing:-1.2px;-webkit-text-stroke:0.45px #1a1718;letter-spacing:-0.136px;left:841.10px;'>will be five or 10 years later. The call</div>
<div style='position:absolute;top:1039.30px;line-height:1;color:#1a1718;font-family:"Liberation Serif", serif;font-size:16px;font-weight:normal;font-style:normal;white-space:pre;word-spacing:-1.2px;-webkit-text-stroke:0.45px #1a1718;letter-spacing:0.019px;left:841.10px;'>can turn out to be good if interest rates</div>
<div style='position:absolute;top:1056.80px;line-height:1;color:#1a1718;font-family:"Liberation Serif", serif;font-size:16px;font-weight:normal;font-style:normal;white-space:pre;word-spacing:-1.2px;-webkit-text-stroke:0.45px #1a1718;letter-spacing:-0.082px;left:841.10px;'>fall and annuity offered is low or bad if</div>
<div style='position:absolute;top:1074.30px;line-height:1;color:#1a1718;font-family:"Liberation Serif", serif;font-size:16px;font-weight:normal;font-style:normal;white-space:pre;word-spacing:-1.2px;-webkit-text-stroke:0.45px #1a1718;letter-spacing:-0.026px;left:841.10px;'>the annuity offered is high. Go ahead</div>
<div style='position:absolute;top:1091.80px;line-height:1;color:#1a1718;font-family:"Liberation Serif", serif;font-size:16px;font-weight:normal;font-style:normal;white-space:pre;word-spacing:-1.2px;-webkit-text-stroke:0.45px #1a1718;letter-spacing:-0.100px;left:841.10px;'>only if you are comfortable with the</div>
<div style='position:absolute;top:1109.30px;line-height:1;color:#1a1718;font-family:"Liberation Serif", serif;font-size:16px;font-weight:normal;font-style:normal;white-space:pre;word-spacing:-1.2px;-webkit-text-stroke:0.45px #1a1718;letter-spacing:0.139px;left:841.10px;'>current interest rates,” says Yohannan.</div>
<div style='position:absolute;top:1126.80px;line-height:1;color:#1a1718;font-family:"Liberation Serif", serif;font-size:16px;font-weight:normal;font-style:normal;white-space:pre;word-spacing:-1.2px;-webkit-text-stroke:0.45px #1a1718;letter-spacing:0.011px;left:841.10px;'>Investors should note that while the cur-</div>
<div style='position:absolute;top:1144.30px;line-height:1;color:#1a1718;font-family:"Liberation Serif", serif;font-size:16px;font-weight:normal;font-style:normal;white-space:pre;word-spacing:-1.2px;-webkit-text-stroke:0.45px #1a1718;letter-spacing:-0.029px;left:841.10px;'>rent rates being offered by products like</div>
<div style='position:absolute;top:1161.80px;line-height:1;color:#1a1718;font-family:"Liberation Serif", serif;font-size:16px;font-weight:normal;font-style:normal;white-space:pre;word-spacing:-1.2px;-webkit-text-stroke:0.45px #1a1718;letter-spacing:-0.153px;left:841.10px;'>SCSS and PPF is high, they may fall in</div>
<div style='position:absolute;top:1179.30px;line-height:1;color:#1a1718;font-family:"Liberation Serif", serif;font-size:16px;font-weight:normal;font-style:normal;white-space:pre;word-spacing:-1.2px;-webkit-text-stroke:0.45px #1a1718;letter-spacing:0.020px;left:841.10px;'>future. Returns generated by debt funds</div>
<div style='position:absolute;top:1196.80px;line-height:1;color:#1a1718;font-family:"Liberation Serif", serif;font-size:16px;font-weight:normal;font-style:normal;white-space:pre;word-spacing:-1.2px;-webkit-text-stroke:0.45px #1a1718;letter-spacing:-0.109px;left:841.10px;'>can also be lower. “The chances of inter-</div>
<div style='position:absolute;top:1214.30px;line-height:1;color:#1a1718;font-family:"Liberation Serif", serif;font-size:16px;font-weight:normal;font-style:normal;white-space:pre;word-spacing:-1.2px;-webkit-text-stroke:0.45px #1a1718;letter-spacing:-0.038px;left:841.10px;'>est rates going down in future is high.</div>
<div style='position:absolute;top:1231.80px;line-height:1;color:#1a1718;font-family:"Liberation Serif", serif;font-size:16px;font-weight:normal;font-style:normal;white-space:pre;word-spacing:-1.2px;-webkit-text-stroke:0.45px #1a1718;letter-spacing:-0.122px;left:841.10px;'>Hence, it makes sense to lock into cur-</div>
<div style='position:absolute;top:1249.30px;line-height:1;color:#1a1718;font-family:"Liberation Serif", serif;font-size:16px;font-weight:normal;font-style:normal;white-space:pre;word-spacing:-1.2px;-webkit-text-stroke:0.45px #1a1718;letter-spacing:-0.017px;left:841.10px;'>rent rates. Deferred payout options are</div>
<div style='position:absolute;top:1266.80px;line-height:1;color:#1a1718;font-family:"Liberation Serif", serif;font-size:16px;font-weight:normal;font-style:normal;white-space:pre;word-spacing:-1.2px;-webkit-text-stroke:0.45px #1a1718;letter-spacing:-0.051px;left:841.10px;'>useful for people who want fixed returns</div>
<div style='position:absolute;top:1284.30px;line-height:1;color:#1a1718;font-family:"Liberation Serif", serif;font-size:16px;font-weight:normal;font-style:normal;white-space:pre;word-spacing:-1.2px;-webkit-text-stroke:0.45px #1a1718;letter-spacing:-0.066px;left:841.10px;'>for the long term,” says Mishra.</div>
<div style='position:absolute;top:881.81px;line-height:1;color:#231a1d;font-family:"Liberation Serif", serif;font-size:120px;font-weight:normal;font-style:normal;white-space:pre;-webkit-text-stroke:1.2px #231a1d;left:6.20px;transform:scaleX(0.9000);transform-origin:0 50%;'>D</div>
<div style='position:absolute;top:863.03px;line-height:1;color:#231f20;font-family:"Liberation Sans", sans-serif;font-size:16.5px;font-weight:normal;font-style:italic;white-space:pre;left:8.50px;transform:scaleX(1.2616);transform-origin:0 50%;'>by</div>
<div style='position:absolute;top:863.03px;line-height:1;color:#231f20;font-family:"Liberation Sans", sans-serif;font-size:16.5px;font-weight:bold;font-style:normal;white-space:pre;left:33.80px;transform:scaleX(1.1169);transform-origin:0 50%;'>Narendra Nathan</div>
<div style='position:absolute;top:586.11px;line-height:1;color:#fff;font-family:"Liberation Sans", sans-serif;font-size:79px;font-weight:bold;font-style:normal;white-space:pre;letter-spacing:3px;word-spacing:-9px;-webkit-text-stroke:2px #fff;text-shadow:1.5px 0 0 #fff,-1.5px 0 0 #fff,3px 0 0 #fff,-3px 0 0 #fff;left:9.00px;transform:scaleX(0.8736);transform-origin:0 50%;'>Are deferred pay plans</div>
<div style='position:absolute;top:665.61px;line-height:1;color:#fff;font-family:"Liberation Sans", sans-serif;font-size:79px;font-weight:bold;font-style:normal;white-space:pre;letter-spacing:3px;word-spacing:-9px;-webkit-text-stroke:2px #fff;text-shadow:1.5px 0 0 #fff,-1.5px 0 0 #fff,3px 0 0 #fff,-3px 0 0 #fff;left:9.50px;transform:scaleX(0.8698);transform-origin:0 50%;'>better than annuity?</div>
<div style='position:absolute;top:758.83px;line-height:1;color:#fff;font-family:"Liberation Sans", sans-serif;font-size:25px;font-weight:bold;font-style:normal;white-space:pre;left:8.40px;transform:scaleX(0.8759);transform-origin:0 50%;'>Though deferred insurance payout plans are tax free, investors should</div>
<div style='position:absolute;top:789.83px;line-height:1;color:#fff;font-family:"Liberation Sans", sans-serif;font-size:25px;font-weight:bold;font-style:normal;white-space:pre;left:8.40px;transform:scaleX(0.8819);transform-origin:0 50%;'>consider several other factors before investing in them.</div>
<div style='position:absolute;top:862.64px;line-height:1;color:#231f20;font-family:"Liberation Sans", sans-serif;font-size:27px;font-weight:bold;font-style:normal;white-space:pre;-webkit-text-stroke:1.0px #231f20;text-shadow:0.4px 0 0 #231f20,-0.4px 0 0 #231f20;left:285.80px;transform:scaleX(0.9991);transform-origin:0 50%;'>How deferred payout plans stack up</div>
<div style='position:absolute;top:898.79px;line-height:1;color:#231f20;font-family:"Liberation Sans", sans-serif;font-size:15.6px;font-weight:normal;font-style:normal;white-space:pre;-webkit-text-stroke:0.2px #231f20;left:285.70px;transform:scaleX(0.9741);transform-origin:0 50%;'>Deferred payout plans are good for people who want guaranteed income</div>
<div style='position:absolute;top:913.79px;line-height:1;color:#231f20;font-family:"Liberation Sans", sans-serif;font-size:15.6px;font-weight:normal;font-style:normal;white-space:pre;-webkit-text-stroke:0.2px #231f20;left:285.70px;transform:scaleX(0.9905);transform-origin:0 50%;'>over the long-term and are in the highest tax bracket even after retirement.</div>
<div style='position:absolute;top:248.41px;line-height:1;color:#fff;font-family:"Liberation Sans", sans-serif;font-size:19px;font-weight:bold;font-style:normal;white-space:pre;left:850.80px;transform:scaleX(0.9703);transform-origin:0 50%;'>TAXATION</div>
<div style='position:absolute;top:878.61px;line-height:1;color:#fff;font-family:"Liberation Sans", sans-serif;font-size:19px;font-weight:bold;font-style:normal;white-space:pre;left:850.30px;transform:scaleX(0.9161);transform-origin:0 50%;'>INTEREST RATE</div>
<div style='position:absolute;top:1297.91px;line-height:1;color:#fff;font-family:"Liberation Sans", sans-serif;font-size:19px;font-weight:bold;font-style:normal;white-space:pre;left:572.30px;transform:scaleX(0.9693);transform-origin:0 50%;'>FLEXIBILITY</div>
<div style='position:absolute;top:1337.69px;line-height:1;color:#1a1718;font-family:"Liberation Sans", sans-serif;font-size:13px;font-weight:bold;font-style:normal;white-space:pre;left:900.00px;transform:scaleX(0.9191);transform-origin:0 50%;'>Please send your feedback to</div>
<div style='position:absolute;top:1351.59px;line-height:1;color:#1a1718;font-family:"Liberation Sans", sans-serif;font-size:13px;font-weight:normal;font-style:normal;white-space:pre;left:900.00px;transform:scaleX(0.9714);transform-origin:0 50%;'>etwealth@timesgroup.com</div>
<div style='position:absolute;top:951.84px;line-height:1;color:#fff;font-family:"Liberation Sans", sans-serif;font-size:12px;font-weight:bold;font-style:normal;white-space:pre;letter-spacing:0.5px;-webkit-text-stroke:0.3px #fff;left:294.00px;transform:scaleX(0.9107);transform-origin:0 50%;'>INSTRUMENT</div>
<div style='position:absolute;top:945.84px;line-height:1;color:#fff;font-family:"Liberation Sans", sans-serif;font-size:12px;font-weight:bold;font-style:normal;white-space:pre;letter-spacing:0.5px;-webkit-text-stroke:0.3px #fff;left:429.36px;transform:scaleX(0.8910);transform-origin:50% 50%;'>EXPECTED</div>
<div style='position:absolute;top:957.84px;line-height:1;color:#fff;font-family:"Liberation Sans", sans-serif;font-size:12px;font-weight:bold;font-style:normal;white-space:pre;letter-spacing:0.5px;-webkit-text-stroke:0.3px #fff;left:425.50px;transform:scaleX(0.8792);transform-origin:50% 50%;'>RETURN (%)</div>
<div style='position:absolute;top:945.84px;line-height:1;color:#fff;font-family:"Liberation Sans", sans-serif;font-size:12px;font-weight:bold;font-style:normal;white-space:pre;letter-spacing:0.5px;-webkit-text-stroke:0.3px #fff;left:534.91px;transform:scaleX(1.0542);transform-origin:50% 50%;'>MAX</div>
<div style='position:absolute;top:957.84px;line-height:1;color:#fff;font-family:"Liberation Sans", sans-serif;font-size:12px;font-weight:bold;font-style:normal;white-space:pre;letter-spacing:0.5px;-webkit-text-stroke:0.3px #fff;left:511.83px;transform:scaleX(0.9577);transform-origin:50% 50%;'>AMOUNT (<svg width="5.85" height="7.50" viewBox="140 118 845 1142" style="display:inline-block;vertical-align:baseline;position:relative;top:0px"><path d="M220,118 L980,118 L915,228 L700,228 C740,260 760,300 768,340 L980,340 L915,450 L768,450 C755,560 680,700 390,730 L820,1260 L610,1260 L185,735 L185,650 C420,645 570,590 600,450 L145,450 L215,340 L598,340 C585,280 530,235 430,228 L150,228 Z" fill="#fff"/></svg>)</div>
<div style='position:absolute;top:951.84px;line-height:1;color:#fff;font-family:"Liberation Sans", sans-serif;font-size:12px;font-weight:bold;font-style:normal;white-space:pre;letter-spacing:0.5px;-webkit-text-stroke:0.3px #fff;left:635.83px;transform:scaleX(0.9017);transform-origin:50% 50%;'>TENURE</div>
<div style='position:absolute;top:951.84px;line-height:1;color:#fff;font-family:"Liberation Sans", sans-serif;font-size:12px;font-weight:bold;font-style:normal;white-space:pre;letter-spacing:0.5px;-webkit-text-stroke:0.3px #fff;left:737.81px;transform:scaleX(0.9521);transform-origin:50% 50%;'>TAXABILITY</div>
<div style='position:absolute;top:979.73px;line-height:1;color:#231f20;font-family:"Liberation Sans", sans-serif;font-size:13.6px;font-weight:normal;font-style:normal;white-space:pre;-webkit-text-stroke:0.15px #231f20;left:294.00px;transform:scaleX(1.0243);transform-origin:0 50%;'>Deferred payout</div>
<div style='position:absolute;top:993.98px;line-height:1;color:#231f20;font-family:"Liberation Sans", sans-serif;font-size:13.6px;font-weight:normal;font-style:normal;white-space:pre;-webkit-text-stroke:0.15px #231f20;left:294.00px;transform:scaleX(0.9954);transform-origin:0 50%;'>plans</div>
<div style='position:absolute;top:1017.73px;line-height:1;color:#231f20;font-family:"Liberation Sans", sans-serif;font-size:13.6px;font-weight:normal;font-style:normal;white-space:pre;-webkit-text-stroke:0.15px #231f20;left:294.00px;transform:scaleX(1.0205);transform-origin:0 50%;'>Immediate annuity</div>
<div style='position:absolute;top:1042.23px;line-height:1;color:#231f20;font-family:"Liberation Sans", sans-serif;font-size:13.6px;font-weight:normal;font-style:normal;white-space:pre;-webkit-text-stroke:0.15px #231f20;left:294.00px;transform:scaleX(0.9547);transform-origin:0 50%;'>SBI FD (for senior</div>
<div style='position:absolute;top:1056.73px;line-height:1;color:#231f20;font-family:"Liberation Sans", sans-serif;font-size:13.6px;font-weight:normal;font-style:normal;white-space:pre;-webkit-text-stroke:0.15px #231f20;left:294.00px;transform:scaleX(0.9898);transform-origin:0 50%;'>citizens)</div>
<div style='position:absolute;top:1081.48px;line-height:1;color:#231f20;font-family:"Liberation Sans", sans-serif;font-size:13.6px;font-weight:normal;font-style:normal;white-space:pre;-webkit-text-stroke:0.15px #231f20;left:294.00px;transform:scaleX(1.0114);transform-origin:0 50%;'>Public Provident</div>
<div style='position:absolute;top:1095.98px;line-height:1;color:#231f20;font-family:"Liberation Sans", sans-serif;font-size:13.6px;font-weight:normal;font-style:normal;white-space:pre;-webkit-text-stroke:0.15px #231f20;left:294.00px;transform:scaleX(0.9634);transform-origin:0 50%;'>Fund</div>
<div style='position:absolute;top:1119.73px;line-height:1;color:#231f20;font-family:"Liberation Sans", sans-serif;font-size:13.6px;font-weight:normal;font-style:normal;white-space:pre;-webkit-text-stroke:0.15px #231f20;left:294.00px;transform:scaleX(0.9619);transform-origin:0 50%;'>Senior Citizens’</div>
<div style='position:absolute;top:1134.73px;line-height:1;color:#231f20;font-family:"Liberation Sans", sans-serif;font-size:13.6px;font-weight:normal;font-style:normal;white-space:pre;-webkit-text-stroke:0.15px #231f20;left:294.00px;transform:scaleX(0.9436);transform-origin:0 50%;'>Saving Scheme</div>
<div style='position:absolute;top:987.66px;line-height:1;color:#231f20;font-family:"Liberation Sans", sans-serif;font-size:12.8px;font-weight:bold;font-style:normal;white-space:pre;-webkit-text-stroke:0.25px #231f20;left:451.04px;transform:scaleX(1.1135);transform-origin:50% 50%;'>6.30</div>
<div style='position:absolute;top:987.66px;line-height:1;color:#231f20;font-family:"Liberation Sans", sans-serif;font-size:12.8px;font-weight:bold;font-style:normal;white-space:pre;-webkit-text-stroke:0.25px #231f20;left:751.13px;transform:scaleX(1.0542);transform-origin:50% 50%;'>Tax free</div>
<div style='position:absolute;top:987.66px;line-height:1;color:#231f20;font-family:"Liberation Sans", sans-serif;font-size:12.8px;font-weight:bold;font-style:normal;white-space:pre;-webkit-text-stroke:0.25px #231f20;left:525.24px;transform:scaleX(1.0176);transform-origin:50% 50%;'>No limit</div>
<div style='position:absolute;top:980.21px;line-height:1;color:#231f20;font-family:"Liberation Sans", sans-serif;font-size:12.8px;font-weight:bold;font-style:normal;white-space:pre;-webkit-text-stroke:0.25px #231f20;left:628.79px;transform:scaleX(1.0203);transform-origin:50% 50%;'>Lifetime or</div>
<div style='position:absolute;top:995.11px;line-height:1;color:#231f20;font-family:"Liberation Sans", sans-serif;font-size:12.8px;font-weight:bold;font-style:normal;white-space:pre;-webkit-text-stroke:0.25px #231f20;left:635.88px;transform:scaleX(1.0488);transform-origin:50% 50%;'>99 years</div>
<div style='position:absolute;top:1018.46px;line-height:1;color:#231f20;font-family:"Liberation Sans", sans-serif;font-size:12.8px;font-weight:bold;font-style:normal;white-space:pre;-webkit-text-stroke:0.25px #231f20;left:451.04px;transform:scaleX(1.1135);transform-origin:50% 50%;'>6.30</div>
<div style='position:absolute;top:1018.46px;line-height:1;color:#231f20;font-family:"Liberation Sans", sans-serif;font-size:12.8px;font-weight:bold;font-style:normal;white-space:pre;-webkit-text-stroke:0.25px #231f20;left:751.84px;transform:scaleX(1.0649);transform-origin:50% 50%;'>Taxable</div>
<div style='position:absolute;top:1018.46px;line-height:1;color:#231f20;font-family:"Liberation Sans", sans-serif;font-size:12.8px;font-weight:bold;font-style:normal;white-space:pre;-webkit-text-stroke:0.25px #231f20;left:525.24px;transform:scaleX(1.0176);transform-origin:50% 50%;'>No limit</div>
<div style='position:absolute;top:1018.46px;line-height:1;color:#231f20;font-family:"Liberation Sans", sans-serif;font-size:12.8px;font-weight:bold;font-style:normal;white-space:pre;-webkit-text-stroke:0.25px #231f20;left:636.96px;transform:scaleX(1.0544);transform-origin:50% 50%;'>Lifetime</div>
<div style='position:absolute;top:1050.16px;line-height:1;color:#231f20;font-family:"Liberation Sans", sans-serif;font-size:12.8px;font-weight:bold;font-style:normal;white-space:pre;-webkit-text-stroke:0.25px #231f20;left:451.04px;transform:scaleX(1.1135);transform-origin:50% 50%;'>7.35</div>
<div style='position:absolute;top:1050.16px;line-height:1;color:#231f20;font-family:"Liberation Sans", sans-serif;font-size:12.8px;font-weight:bold;font-style:normal;white-space:pre;-webkit-text-stroke:0.25px #231f20;left:751.84px;transform:scaleX(1.0649);transform-origin:50% 50%;'>Taxable</div>
<div style='position:absolute;top:1050.16px;line-height:1;color:#231f20;font-family:"Liberation Sans", sans-serif;font-size:12.8px;font-weight:bold;font-style:normal;white-space:pre;-webkit-text-stroke:0.25px #231f20;left:525.24px;transform:scaleX(1.0176);transform-origin:50% 50%;'>No limit</div>
<div style='position:absolute;top:1050.16px;line-height:1;color:#231f20;font-family:"Liberation Sans", sans-serif;font-size:12.8px;font-weight:bold;font-style:normal;white-space:pre;-webkit-text-stroke:0.25px #231f20;left:630.19px;transform:scaleX(1.0339);transform-origin:50% 50%;'>5-10 years</div>
<div style='position:absolute;top:1089.76px;line-height:1;color:#231f20;font-family:"Liberation Sans", sans-serif;font-size:12.8px;font-weight:bold;font-style:normal;white-space:pre;-webkit-text-stroke:0.25px #231f20;left:451.04px;transform:scaleX(1.1135);transform-origin:50% 50%;'>8.00</div>
<div style='position:absolute;top:1089.76px;line-height:1;color:#231f20;font-family:"Liberation Sans", sans-serif;font-size:12.8px;font-weight:bold;font-style:normal;white-space:pre;-webkit-text-stroke:0.25px #231f20;left:751.13px;transform:scaleX(1.0542);transform-origin:50% 50%;'>Tax free</div>
<div style='position:absolute;top:1082.31px;line-height:1;color:#231f20;font-family:"Liberation Sans", sans-serif;font-size:12.8px;font-weight:bold;font-style:normal;white-space:pre;-webkit-text-stroke:0.25px #231f20;left:518.39px;transform:scaleX(1.0598);transform-origin:50% 50%;'><svg width="6.55" height="8.40" viewBox="140 118 845 1142" style="display:inline-block;vertical-align:baseline;position:relative;top:0px"><path d="M220,118 L980,118 L915,228 L700,228 C740,260 760,300 768,340 L980,340 L915,450 L768,450 C755,560 680,700 390,730 L820,1260 L610,1260 L185,735 L185,650 C420,645 570,590 600,450 L145,450 L215,340 L598,340 C585,280 530,235 430,228 L150,228 Z" fill="#231f20"/></svg>1.50 lakh</div>
<div style='position:absolute;top:1097.21px;line-height:1;color:#231f20;font-family:"Liberation Sans", sans-serif;font-size:12.8px;font-weight:bold;font-style:normal;white-space:pre;-webkit-text-stroke:0.25px #231f20;left:530.19px;transform:scaleX(1.0604);transform-origin:50% 50%;'>a year</div>
<div style='position:absolute;top:1082.31px;line-height:1;color:#231f20;font-family:"Liberation Sans", sans-serif;font-size:12.8px;font-weight:bold;font-style:normal;white-space:pre;-webkit-text-stroke:0.25px #231f20;left:618.46px;transform:scaleX(1.0194);transform-origin:50% 50%;'>15 years; then</div>
<div style='position:absolute;top:1097.21px;line-height:1;color:#231f20;font-family:"Liberation Sans", sans-serif;font-size:12.8px;font-weight:bold;font-style:normal;white-space:pre;-webkit-text-stroke:0.25px #231f20;left:609.57px;transform:scaleX(0.9941);transform-origin:50% 50%;'>blocks of 5 years</div>
<div style='position:absolute;top:1128.16px;line-height:1;color:#231f20;font-family:"Liberation Sans", sans-serif;font-size:12.8px;font-weight:bold;font-style:normal;white-space:pre;-webkit-text-stroke:0.25px #231f20;left:451.04px;transform:scaleX(1.1135);transform-origin:50% 50%;'>8.70</div>
<div style='position:absolute;top:1128.16px;line-height:1;color:#231f20;font-family:"Liberation Sans", sans-serif;font-size:12.8px;font-weight:bold;font-style:normal;white-space:pre;-webkit-text-stroke:0.25px #231f20;left:751.84px;transform:scaleX(1.0649);transform-origin:50% 50%;'>Taxable</div>
<div style='position:absolute;top:1128.16px;line-height:1;color:#231f20;font-family:"Liberation Sans", sans-serif;font-size:12.8px;font-weight:bold;font-style:normal;white-space:pre;-webkit-text-stroke:0.25px #231f20;left:523.72px;transform:scaleX(1.0460);transform-origin:50% 50%;'><svg width="6.55" height="8.40" viewBox="140 118 845 1142" style="display:inline-block;vertical-align:baseline;position:relative;top:0px"><path d="M220,118 L980,118 L915,228 L700,228 C740,260 760,300 768,340 L980,340 L915,450 L768,450 C755,560 680,700 390,730 L820,1260 L610,1260 L185,735 L185,650 C420,645 570,590 600,450 L145,450 L215,340 L598,340 C585,280 530,235 430,228 L150,228 Z" fill="#231f20"/></svg>15 lakh</div>
<div style='position:absolute;top:1120.71px;line-height:1;color:#231f20;font-family:"Liberation Sans", sans-serif;font-size:12.8px;font-weight:bold;font-style:normal;white-space:pre;-webkit-text-stroke:0.25px #231f20;left:611.00px;transform:scaleX(1.0124);transform-origin:50% 50%;'>Only for 5 years;</div>
<div style='position:absolute;top:1135.61px;line-height:1;color:#231f20;font-family:"Liberation Sans", sans-serif;font-size:12.8px;font-weight:bold;font-style:normal;white-space:pre;-webkit-text-stroke:0.25px #231f20;left:606.73px;transform:scaleX(1.0431);transform-origin:50% 50%;'>Quarterly payouts</div>
</div></body></html>
